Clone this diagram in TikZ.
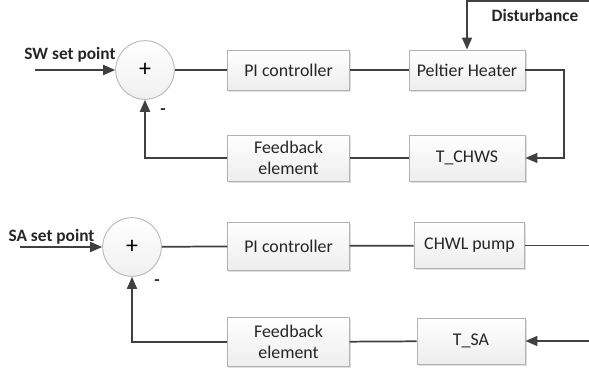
\documentclass[tikz,border=0pt]{standalone}
\usepackage{fontspec}
\setmainfont{Carlito}
\usetikzlibrary{arrows.meta,shadows}

\tikzset{
  block/.style={draw=gray!60, line width=0.7pt, top color=white, bottom color=gray!14,
    minimum width=91pt, minimum height=30pt, align=center, inner sep=2pt,
    font=\fontsize{13.4}{16}\selectfont, text=black!85,
    drop shadow={shadow xshift=1.2pt, shadow yshift=-1.2pt, opacity=0.25}},
  sumnode/.style={circle, draw=gray!55, line width=0.7pt, top color=white, bottom color=gray!12,
    minimum size=44pt, inner sep=0pt, font=\fontsize{18}{18}\selectfont},
  sig/.style={line width=1.3pt, draw=black!75},
  tip/.style={-{Triangle[length=9pt,width=7.5pt]}, sig},
  lbl/.style={font=\fontsize{13}{15}\selectfont\bfseries, text=black!85, inner sep=0pt}
}

\begin{document}
\begin{tikzpicture}[x=0.75pt, y=-0.75pt]
  \useasboundingbox (0,0) rectangle (589,372);

  % upper loop
  \node[sumnode] (sum1) at (145,70) {+};
  \node[block] (pi1) at (288.5,70) {PI controller};
  \node[block, minimum width=87pt] (heat) at (467,70) {Peltier Heater};
  \node[block, minimum width=87pt, minimum height=34.5pt] (tchws) at (467,158) {T\_CHWS};
  \node[block, minimum height=34.5pt] (fb1) at (288.5,158) {Feedback\\element};

  \node[lbl] (sw) at (70,55) {SW set point};
  \node[lbl] (dist) at (535,15) {Disturbance};
  \node[lbl] (minus1) at (163,112) {-};

  \coordinate (swin) at (35,70);
  \coordinate (dtop) at (467,0.8);
  \coordinate (dend) at (589,0.8);
  \coordinate (rloop) at (564,70);

  \draw[tip] (swin) -- (sum1);
  \draw[sig] (sum1) -- (pi1);
  \draw[sig] (pi1) -- (heat);
  \draw[tip] (dend) -- (dtop) -- (heat.north);
  \draw[tip] (heat.east) -- (rloop) |- (tchws.east);
  \draw[sig] (tchws) -- (fb1);
  \draw[tip] (fb1.west) -| (sum1.south);

  % lower loop
  \node[sumnode] (sum2) at (132,247) {+};
  \node[block, minimum height=36pt] (pi2) at (288.5,246) {PI controller};
  \node[block, minimum width=83pt, minimum height=34pt] (pump) at (469.5,245.5) {CHWL pump};
  \node[block, minimum width=81pt, minimum height=34.5pt] (tsa) at (471,341) {T\_SA};
  \node[block, minimum height=37pt] (fb2) at (288.5,342) {Feedback\\element};

  \node[lbl] (sa) at (51.5,236.5) {SA set point};
  \node[lbl] (minus2) at (157,283) {-};

  \coordinate (sain) at (20,247);
  \coordinate (pumpout) at (589,245.5);
  \coordinate (tsain) at (589,341);

  \draw[tip] (sain) -- (sum2);
  \draw[sig] (sum2) -- (pi2);
  \draw[sig] (pi2) -- (pump);
  \draw[sig] (pump) -- (pumpout);
  \draw[tip] (tsain) -- (tsa);
  \draw[sig] (tsa) -- (fb2);
  \draw[tip] (fb2.west) -| (sum2.south);
\end{tikzpicture}
\end{document}
